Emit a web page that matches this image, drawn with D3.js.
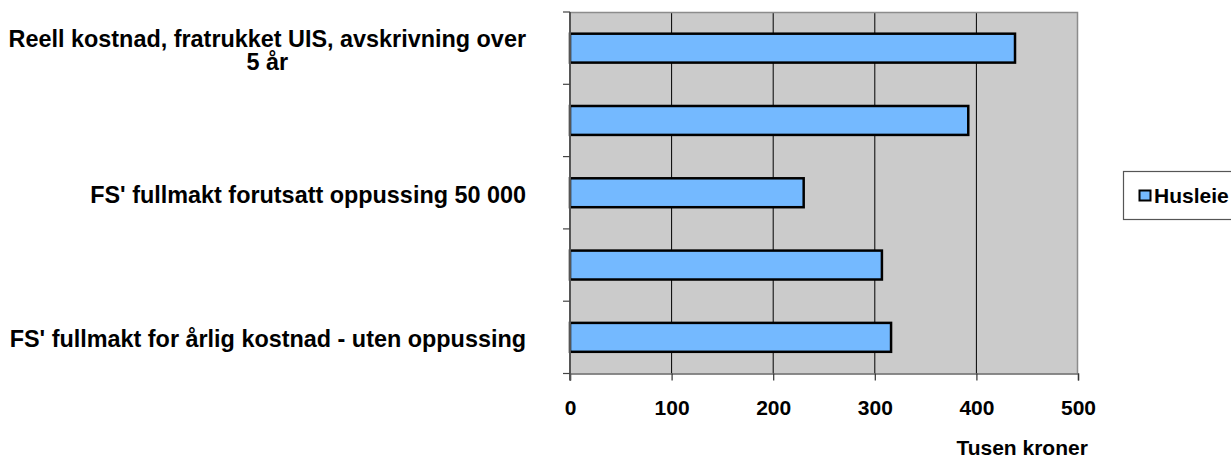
<!DOCTYPE html>
<meta charset="utf-8">
<title>Husleie</title>
<script src="https://d3js.org/d3.v7.min.js"></script>
<style>
  body { margin: 0; background: #fff; }
  text { font-family: "Liberation Sans", Arial, sans-serif; font-weight: bold; fill: #000; }
</style>
<div id="chart"></div>
<script>

// data, top to bottom (2nd and 4th labels are skipped in the picture)
var categories = [
  "Reell kostnad, fratrukket UIS, avskrivning over\n5 år",
  "",
  "FS' fullmakt forutsatt oppussing 50 000",
  "",
  "FS' fullmakt for årlig kostnad - uten oppussing"
];
var husleie = [438, 392, 230, 307, 316];
var xTicks = [0, 100, 200, 300, 400, 500];
var seriesName = "Husleie";
var axisTitle = "Tusen kroner";

var W = 1231, H = 457;
var margin = {top: 12, left: 570, right: 153, bottom: 83.5};
var width = W - margin.left - margin.right,
    height = H - margin.top - margin.bottom;

var svg = d3.select("#chart")
  .append("svg")
    .attr("width", W)
    .attr("height", H);

var g = svg.append("g")
  .attr("transform", "translate(" + margin.left + "," + margin.top + ")");

var x = d3.scaleLinear()
  .domain([0, 500])
  .range([0, width]);

var y = d3.scaleBand()
  .domain(d3.range(categories.length))
  .range([0, height])
  .paddingInner(0.6)
  .paddingOuter(0.3);

// plot background
g.append("rect")
  .attr("width", width)
  .attr("height", height)
  .attr("fill", "#cbcbcb");

// vertical gridlines
g.selectAll(".grid")
  .data(xTicks.slice(1, -1))
  .enter()
  .append("line")
    .attr("x1", function(d) { return x(d); })
    .attr("x2", function(d) { return x(d); })
    .attr("y1", 0)
    .attr("y2", height)
    .attr("stroke", "#000")
    .attr("stroke-width", 1);

// frame top / right
g.append("path")
  .attr("d", "M0,0.5H" + (width - 0.5) + "V" + height)
  .attr("fill", "none")
  .attr("stroke", "#8c8c8c")
  .attr("stroke-width", 1.5);

// bars
g.selectAll(".bar")
  .data(husleie)
  .enter()
  .append("rect")
    .attr("x", x(0))
    .attr("y", function(d, i) { return y(i); })
    .attr("width", function(d) { return x(d) - x(0); })
    .attr("height", y.bandwidth())
    .attr("fill", "#74b9ff")
    .attr("stroke", "#000")
    .attr("stroke-width", 2.5);

// x axis
var xAxis = g.append("g")
  .attr("transform", "translate(0," + height + ")")
  .call(d3.axisBottom(x).tickValues(xTicks).tickSize(7).tickPadding(20));
xAxis.select(".domain").attr("stroke", "#666").attr("stroke-width", 1.5);
xAxis.selectAll(".tick line").attr("stroke", "#333").attr("stroke-width", 1.2);
xAxis.selectAll("text")
  .attr("font-size", 21)
  .attr("font-family", "Liberation Sans, Arial, sans-serif")
  .attr("font-weight", "bold");

// y axis: ticks on band boundaries
var bounds = d3.range(categories.length + 1).map(function(i) {
  return i * y.step();
});
g.append("line")
  .attr("x1", 0).attr("x2", 0)
  .attr("y1", 0).attr("y2", height + 7)
  .attr("stroke", "#555")
  .attr("stroke-width", 2);
g.selectAll(".ytick")
  .data(bounds)
  .enter()
  .append("line")
    .attr("x1", -7)
    .attr("x2", 0)
    .attr("y1", function(d) { return d; })
    .attr("y2", function(d) { return d; })
    .attr("stroke", "#444")
    .attr("stroke-width", 1.2);

// category labels: block right aligned, lines centred in the block
var labelRight = -44;
var lh = 23;
g.selectAll(".cat")
  .data(categories)
  .enter()
  .append("text")
    .attr("font-size", 23.4)
    .attr("text-anchor", "middle")
    .each(function(d, i) {
      if (!d) return;
      var t = d3.select(this);
      var lines = d.split("\n");
      var cy = y(i) + y.bandwidth() / 2;
      lines.forEach(function(l, k) {
        t.append("tspan")
          .attr("x", 0)
          .attr("y", cy + 10 + (k - (lines.length - 1) / 2) * lh)
          .text(l);
      });
      var bw = this.getBBox().width;
      t.selectAll("tspan").attr("x", labelRight - bw / 2);
    });

// axis title
g.append("text")
  .attr("x", x(445))
  .attr("y", height + 81)
  .attr("text-anchor", "middle")
  .attr("font-size", 21)
  .text(axisTitle);

// legend
var lg = svg.append("g").attr("transform", "translate(1123,171)");
lg.append("rect")
  .attr("x", 0.5).attr("y", 0.5)
  .attr("width", 130).attr("height", 48)
  .attr("fill", "#fff")
  .attr("stroke", "#555")
  .attr("stroke-width", 1.2);
lg.append("rect")
  .attr("x", 16.5).attr("y", 19.5)
  .attr("width", 11).attr("height", 10)
  .attr("fill", "#74b9ff")
  .attr("stroke", "#000")
  .attr("stroke-width", 2);
lg.append("text")
  .attr("x", 31)
  .attr("y", 32)
  .attr("font-size", 21)
  .text(seriesName);

</script>
